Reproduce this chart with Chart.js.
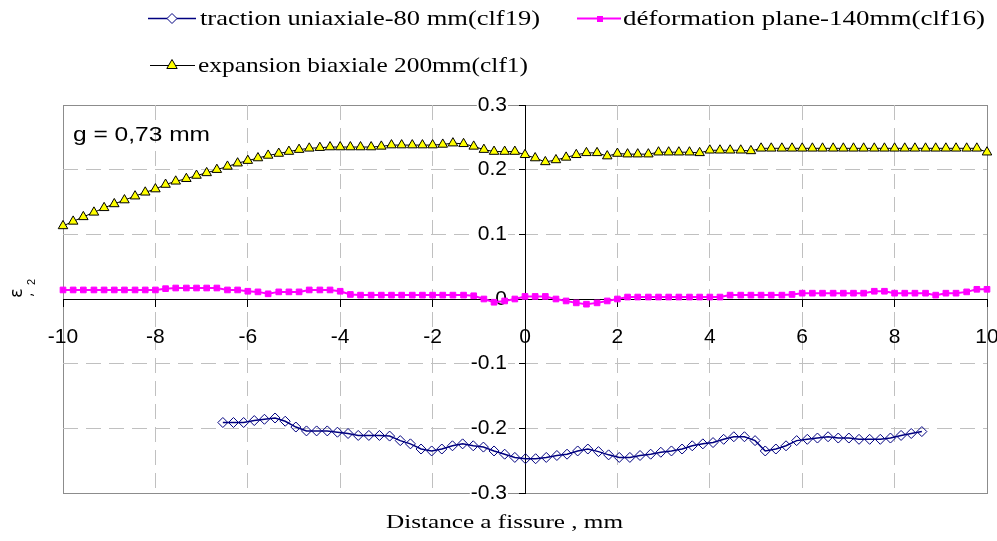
<!DOCTYPE html>
<html><head><meta charset="utf-8">
<script src="https://cdn.jsdelivr.net/npm/chart.js@4/dist/chart.umd.min.js"></script>
<style>html,body{margin:0;padding:0;background:#fff;}#wrap{width:997px;height:541px;position:relative;}</style>
</head><body><div id="wrap"><canvas id="c" width="997" height="541"></canvas></div>
<script>
// ---- data ----
const seriesNames = ['traction uniaxiale-80 mm(clf19)', 'déformation plane-140mm(clf16)', 'expansion biaxiale 200mm(clf1)'];
const xTickValues = [-10, -8, -6, -4, -2, 0, 2, 4, 6, 8, 10];
const yTickValues = [-0.3, -0.2, -0.1, 0, 0.1, 0.2, 0.3];
const annotationText = 'g = 0,73 mm';
const xTitle = 'Distance a fissure , mm';

const distance = [-10,-9.78,-9.56,-9.33,-9.11,-8.89,-8.67,-8.44,-8.22,-8,
 -7.78,-7.56,-7.33,-7.11,-6.89,-6.67,-6.44,-6.22,-6,-5.78,
 -5.56,-5.33,-5.11,-4.89,-4.67,-4.44,-4.22,-4,-3.78,-3.56,
 -3.33,-3.11,-2.89,-2.67,-2.44,-2.22,-2,-1.78,-1.56,-1.33,
 -1.11,-0.89,-0.67,-0.44,-0.22,0,0.22,0.44,0.67,0.89,
 1.11,1.33,1.56,1.78,2,2.22,2.44,2.67,2.89,3.11,
 3.33,3.56,3.78,4,4.22,4.44,4.67,4.89,5.11,5.33,
 5.56,5.78,6,6.22,6.44,6.67,6.89,7.11,7.33,7.56,
 7.78,8,8.22,8.44,8.67,8.89,9.11,9.33,9.56,9.78,10];

const expansion = [0.113,0.120,0.127,0.134,0.141,0.147,0.153,0.159,0.165,0.170,
 0.177,0.182,0.186,0.191,0.195,0.200,0.205,0.210,0.214,0.218,
 0.222,0.225,0.228,0.231,0.233,0.234,0.235,0.235,0.235,0.235,
 0.235,0.236,0.238,0.238,0.238,0.238,0.238,0.239,0.241,0.240,
 0.236,0.231,0.228,0.228,0.228,0.223,0.218,0.212,0.215,0.219,
 0.223,0.226,0.226,0.221,0.225,0.224,0.224,0.224,0.227,0.227,
 0.227,0.227,0.226,0.230,0.230,0.230,0.230,0.229,0.233,0.233,
 0.233,0.233,0.233,0.233,0.233,0.233,0.233,0.233,0.233,0.233,
 0.233,0.233,0.233,0.233,0.233,0.233,0.233,0.233,0.233,0.233,0.227];

const plane = [0.014,0.014,0.014,0.014,0.014,0.014,0.014,0.014,0.014,0.014,
 0.016,0.017,0.017,0.017,0.017,0.017,0.014,0.014,0.012,0.011,
 0.008,0.011,0.011,0.011,0.014,0.014,0.014,0.012,0.007,0.006,
 0.006,0.006,0.006,0.006,0.006,0.006,0.006,0.006,0.006,0.006,
 0.005,0.000,-0.005,-0.003,0.000,0.004,0.004,0.004,0.000,-0.003,
 -0.006,-0.008,-0.006,-0.003,0.000,0.003,0.003,0.003,0.003,0.003,
 0.003,0.003,0.003,0.003,0.003,0.006,0.006,0.006,0.006,0.006,
 0.006,0.007,0.009,0.009,0.009,0.009,0.009,0.009,0.009,0.012,
 0.012,0.009,0.009,0.009,0.009,0.006,0.009,0.009,0.011,0.015,0.015];

const distanceTraction = [-6.54,-6.31,-6.09,-5.86,-5.64,-5.41,-5.19,-4.96,-4.73,-4.51,
 -4.28,-4.06,-3.83,-3.61,-3.38,-3.15,-2.93,-2.70,-2.48,-2.25,
 -2.02,-1.80,-1.57,-1.35,-1.12,-0.90,-0.67,-0.44,-0.22,0.01,
 0.23,0.46,0.69,0.91,1.14,1.36,1.59,1.81,2.04,2.27,
 2.49,2.72,2.94,3.17,3.40,3.62,3.85,4.07,4.30,4.52,
 4.75,4.98,5.20,5.43,5.65,5.88,6.11,6.33,6.56,6.78,
 7.01,7.23,7.46,7.69,7.91,8.14,8.36,8.59];

const traction = [-0.191,-0.191,-0.191,-0.188,-0.186,-0.184,-0.189,-0.198,-0.204,-0.204,
 -0.204,-0.206,-0.208,-0.211,-0.211,-0.211,-0.212,-0.219,-0.224,-0.232,
 -0.235,-0.232,-0.227,-0.224,-0.227,-0.229,-0.235,-0.240,-0.245,-0.247,
 -0.247,-0.245,-0.242,-0.240,-0.235,-0.232,-0.236,-0.241,-0.245,-0.245,
 -0.242,-0.240,-0.237,-0.235,-0.232,-0.227,-0.224,-0.222,-0.217,-0.213,
 -0.213,-0.219,-0.235,-0.232,-0.227,-0.219,-0.217,-0.215,-0.213,-0.215,
 -0.215,-0.217,-0.217,-0.217,-0.215,-0.211,-0.208,-0.205];

const pts = (xs, ys) => xs.map((x, i) => ({x: x, y: ys[i]}));

// ---- helpers ----
function fitText(ctx, text, x, y, w, font) {
  ctx.save();
  ctx.font = font;
  const m = ctx.measureText(text).width;
  ctx.translate(x, y);
  ctx.scale(w / m, 1);
  ctx.fillText(text, 0, 0);
  ctx.restore();
}
function diamond(ctx, cx, cy, r) {
  ctx.beginPath(); ctx.moveTo(cx - r, cy); ctx.lineTo(cx, cy - r); ctx.lineTo(cx + r, cy); ctx.lineTo(cx, cy + r); ctx.closePath();
  ctx.fillStyle = '#fff'; ctx.fill(); ctx.strokeStyle = '#000080'; ctx.lineWidth = 1; ctx.stroke();
}
function triangle(ctx, cx, cy, r) {
  ctx.beginPath(); ctx.moveTo(cx, cy - r); ctx.lineTo(cx + r * 0.866, cy + r * 0.5); ctx.lineTo(cx - r * 0.866, cy + r * 0.5); ctx.closePath();
  ctx.fillStyle = '#ffff00'; ctx.fill(); ctx.strokeStyle = '#000'; ctx.lineWidth = 1; ctx.stroke();
}

const decor = {
  id: 'decor',
  beforeDraw(chart) {
    const {ctx, chartArea: a} = chart;
    ctx.save();
    ctx.strokeStyle = '#8c8c8c'; ctx.lineWidth = 1;
    ctx.strokeRect(Math.round(a.left) + 0.5, Math.round(a.top) + 0.5, Math.round(a.right - a.left), Math.round(a.bottom - a.top));
    ctx.restore();
  },
  afterDraw(chart) {
    const ctx = chart.ctx;
    ctx.save();
    ctx.fillStyle = '#000';
    ctx.textBaseline = 'middle';
    // legend row 1, item 1
    ctx.strokeStyle = '#000080'; ctx.lineWidth = 1.5;
    ctx.beginPath(); ctx.moveTo(148, 18.5); ctx.lineTo(196, 18.5); ctx.stroke();
    diamond(ctx, 172, 18.5, 5);
    ctx.fillStyle = '#000';
    fitText(ctx, seriesNames[0], 200, 19, 340, '22px "Liberation Serif"');
    // legend row 1, item 2
    ctx.strokeStyle = '#ff00ff'; ctx.lineWidth = 2;
    ctx.beginPath(); ctx.moveTo(577, 18.5); ctx.lineTo(621, 18.5); ctx.stroke();
    ctx.fillStyle = '#ff00ff'; ctx.fillRect(597, 16, 6, 6);
    ctx.fillStyle = '#000';
    fitText(ctx, seriesNames[1], 623, 19, 362, '22px "Liberation Serif"');
    // legend row 2
    ctx.strokeStyle = '#000'; ctx.lineWidth = 1;
    ctx.beginPath(); ctx.moveTo(150, 65.5); ctx.lineTo(195, 65.5); ctx.stroke();
    triangle(ctx, 172, 65.5, 6);
    ctx.fillStyle = '#000';
    fitText(ctx, seriesNames[2], 198, 66, 330, '22px "Liberation Serif"');
    // annotation
    fitText(ctx, annotationText, 73, 135, 137, '21px "Liberation Sans"');
    // x title
    fitText(ctx, xTitle, 386, 523, 237, '19px "Liberation Serif"');
    // y title (rotated)
    ctx.translate(22, 298);
    ctx.rotate(-Math.PI / 2);
    ctx.textBaseline = 'alphabetic';
    ctx.font = '18px "DejaVu Sans"';
    ctx.fillText('ε', 0, 0);
    ctx.font = '14px "DejaVu Sans"';
    ctx.fillText(',', 1, 10);
    ctx.font = '11px "Liberation Sans"';
    ctx.fillText('2', 13, 13);
    ctx.restore();
  }
};

const edgeColor = (lim) => (c) => (Math.abs(c.tick.value) >= lim - 1e-9 ? 'rgba(0,0,0,0)' : '#c0c0c0');
const noSpace = (horizontal) => (s) => {
  if (horizontal) { s.height = 0; } else { s.width = 0; }
  s.paddingLeft = 0; s.paddingRight = 0; s.paddingTop = 0; s.paddingBottom = 0;
};

new Chart(document.getElementById('c'), {
  type: 'line',
  data: {
    datasets: [
      {label: seriesNames[0], data: pts(distanceTraction, traction), borderColor: '#000080', borderWidth: 1.5,
       pointStyle: 'rectRot', pointRadius: 5, pointBackgroundColor: 'rgba(255,255,255,0)', pointBorderColor: '#000080', pointBorderWidth: 1, clip: false},
      {label: seriesNames[1], data: pts(distance, plane), borderColor: '#ff00ff', borderWidth: 2,
       pointStyle: 'rect', pointRadius: 4, pointBackgroundColor: '#ff00ff', pointBorderColor: '#ff00ff', pointBorderWidth: 1, clip: false},
      {label: seriesNames[2], data: pts(distance, expansion), borderColor: '#000', borderWidth: 1,
       pointStyle: 'triangle', pointRadius: 5.5, pointBackgroundColor: '#ffff00', pointBorderColor: '#000', pointBorderWidth: 1, clip: false}
    ]
  },
  options: {
    responsive: false, animation: false, devicePixelRatio: 1,
    layout: {padding: {left: 63, right: 10, top: 105, bottom: 48}},
    plugins: {legend: {display: false}, tooltip: {enabled: false}},
    elements: {line: {tension: 0}},
    scales: {
      x: {
        type: 'linear', position: 'center', min: -10, max: 10,
        afterFit: noSpace(true),
        afterBuildTicks: (s) => { s.ticks = xTickValues.map(v => ({value: v})); },
        ticks: {color: '#000', font: {family: '"Liberation Sans"', size: 21}, padding: 19, autoSkip: false, maxRotation: 0,
                callback: (v) => String(v)},
        grid: {color: edgeColor(10), lineWidth: 1, tickColor: '#000', tickLength: 7, drawTicks: true},
        border: {display: true, color: '#000', width: 1, dash: [15, 8]}
      },
      y: {
        type: 'linear', position: 'center', min: -0.3, max: 0.3,
        afterFit: noSpace(false),
        afterBuildTicks: (s) => { s.ticks = yTickValues.map(v => ({value: v})); },
        ticks: {color: '#000', font: {family: '"Liberation Sans"', size: 21}, padding: 12, autoSkip: false,
                showLabelBackdrop: true, backdropColor: '#fff', backdropPadding: 1,
                callback: (v) => (Math.abs(v) < 1e-9 ? '0' : String(Math.round(v * 10) / 10))},
        grid: {color: edgeColor(0.3), lineWidth: 1, tickColor: '#000', tickLength: 6, drawTicks: true},
        border: {display: true, color: '#000', width: 1, dash: [15, 8]}
      }
    }
  },
  plugins: [decor]
});
</script></body></html>
